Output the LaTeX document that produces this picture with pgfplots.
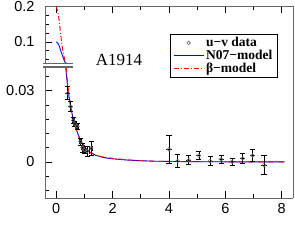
\documentclass[border=0pt]{standalone}
\usepackage{pgfplots}
\pgfplotsset{compat=1.18}
\usepackage{pgfplotstable}
\usepackage{fontspec}
\setmainfont{Liberation Sans}
\newfontfamily\seriffont{Liberation Serif}

\pgfplotstableread{
x y
0 0.200
0.05 0.185
0.1 0.163
0.15 0.125
0.2 0.092
0.25 0.068
0.3 0.050
0.35 0.040
0.4 0.0330
0.45 0.0285
0.5 0.0245
0.6 0.0180
0.7 0.0138
0.8 0.0105
0.9 0.0080
1.0 0.0062
1.1 0.0049
1.2 0.0040
1.4 0.0029
1.6 0.0022
1.8 0.0018
2.0 0.0015
2.5 0.0009
3.0 0.0005
3.5 0.0003
4.0 0.0002
5.0 0.0001
6.0 0.00005
7.0 0.00002
8.1 0.0
}\betamodel

\pgfplotstableread{
x y
0 0.100
0.05 0.097
0.1 0.090
0.15 0.078
0.2 0.066
0.25 0.055
0.3 0.045
0.35 0.038
0.4 0.0320
0.45 0.0275
0.5 0.0238
0.6 0.0180
0.7 0.0140
0.8 0.0108
0.9 0.0083
1.0 0.0064
1.1 0.0050
1.2 0.0040
1.4 0.0028
1.6 0.0021
1.8 0.0016
2.0 0.0013
2.5 0.0008
3.0 0.0005
3.5 0.0003
4.0 0.0002
5.0 0.0001
6.0 0.00005
7.0 0.00002
8.1 0.0
}\nmodel

\pgfplotstableread{
x y ex ey
0.41 0.0290 0 0.0028
0.51 0.0233 0 0.0021
0.60 0.0175 0.04 0.0012
0.66 0.0160 0.05 0.0010
0.74 0.0150 0.04 0.0012
0.86 0.0085 0.03 0.0015
0.93 0.0060 0.05 0.0018
1.00 0.0050 0.04 0.0015
1.10 0.0045 0.06 0.0020
1.24 0.0058 0.05 0.0030
4.00 0.0053 0 0.0060
4.31 0.0004 0 0.0027
4.70 0.0008 0 0.0020
5.06 0.0027 0 0.0017
5.46 0.0004 0 0.0018
5.85 0.0011 0 0.0018
6.24 0.0001 0 0.0016
6.62 0.0015 0 0.0021
6.97 0.0027 0 0.0025
7.37 -0.0013 0 0.0041
}\uvdata

\pgfplotsset{
  common/.style={
    scale only axis, width=248pt,
    xmin=-0.4, xmax=8.4,
    xtick={0,2,4,6,8}, minor xtick={1,3,5,7},
    tick align=inside,
    major tick length=7pt, minor tick length=4pt,
    axis line style={black!60, line width=0.9pt},
    every tick/.style={black, line width=0.7pt},
    tick label style={font=\fontsize{14.5}{15}\selectfont},
    /pgf/number format/assume math mode=true,
    scaled y ticks=false,
    ytick pos=left,
    legend image code/.code={\draw[mark repeat=2,mark phase=2,##1] plot coordinates {(0pt,0pt) (15pt,0pt) (30pt,0pt)};},
  },
  nstyle/.style={draw=blue, color=blue, line width=0.9pt, no marks},
  bstyle/.style={draw=red, color=red, line width=0.9pt, no marks, dash pattern=on 5pt off 2pt on 1pt off 2pt},
  dstyle/.style={only marks, mark=o, mark size=1.8pt, mark options={draw=black!60, line width=0.6pt}},
}

\begin{document}
\begin{tikzpicture}
% lower panel
\begin{axis}[common,
  at={(0pt,0pt)}, anchor=south west, height=131pt,
  ymin=-0.0152, ymax=0.04,
  axis x line*=bottom, axis y line*=box,
  ytick={0,0.03}, yticklabels={0,0.03},
  minor ytick={-0.012,-0.006,0.006,0.012,0.018,0.024,0.036},
  yticklabel style={xshift=-7pt},
  xticklabel style={yshift=-2pt},
]
\addplot[nstyle] table[x=x,y=y] {\nmodel};
\addplot[bstyle] table[x=x,y=y] {\betamodel};
\addplot[dstyle, error bars/.cd, y dir=both, y explicit, x dir=both, x explicit,
  error bar style={draw=black, line width=0.7pt},
  error mark options={draw=black, line width=0.7pt, mark size=2.6pt, rotate=90}]
  table[x=x,y=y,x error=ex,y error=ey] {\uvdata};
\end{axis}
% upper panel
\begin{axis}[common,
  at={(0pt,134.7pt)}, anchor=south west, height=57pt,
  ymin=0.04, ymax=0.2,
  axis x line*=top, axis y line*=box,
  xticklabels={},
  ytick={0.1,0.2}, yticklabels={0.1,0.2},
  minor ytick={0.05,0.075,0.125,0.15,0.175},
  yticklabel style={xshift=-7pt},
  legend style={at={(0.938,0.52)}, anchor=north east, line width=0.6pt,
    font=\seriffont\bfseries\fontsize{13.5}{13.5}\selectfont, inner xsep=3pt, inner ysep=1.5pt,
    row sep=-2.2pt, cells={anchor=west}},
]
\addlegendimage{dstyle}
\addplot[nstyle] table[x=x,y=y] {\nmodel};
\addplot[bstyle] table[x=x,y=y] {\betamodel};
\legend{u−v data, N07−model, β−model}
\end{axis}
\draw[black!60, line width=1.1pt] (-2pt,134.7pt) -- (28pt,134.7pt);
\draw[black!60, line width=1.1pt] (-2pt,131pt) -- (28pt,131pt);
\draw[black!60, line width=0.9pt] (248pt,131pt) -- (248pt,134.7pt);
\node[font=\seriffont\fontsize{17}{17}\selectfont] at (74pt,138.3pt) {A1914};
\pgfresetboundingbox
\path[use as bounding box] (-45pt,-51pt) rectangle (250pt,198pt);
\end{tikzpicture}
\end{document}
